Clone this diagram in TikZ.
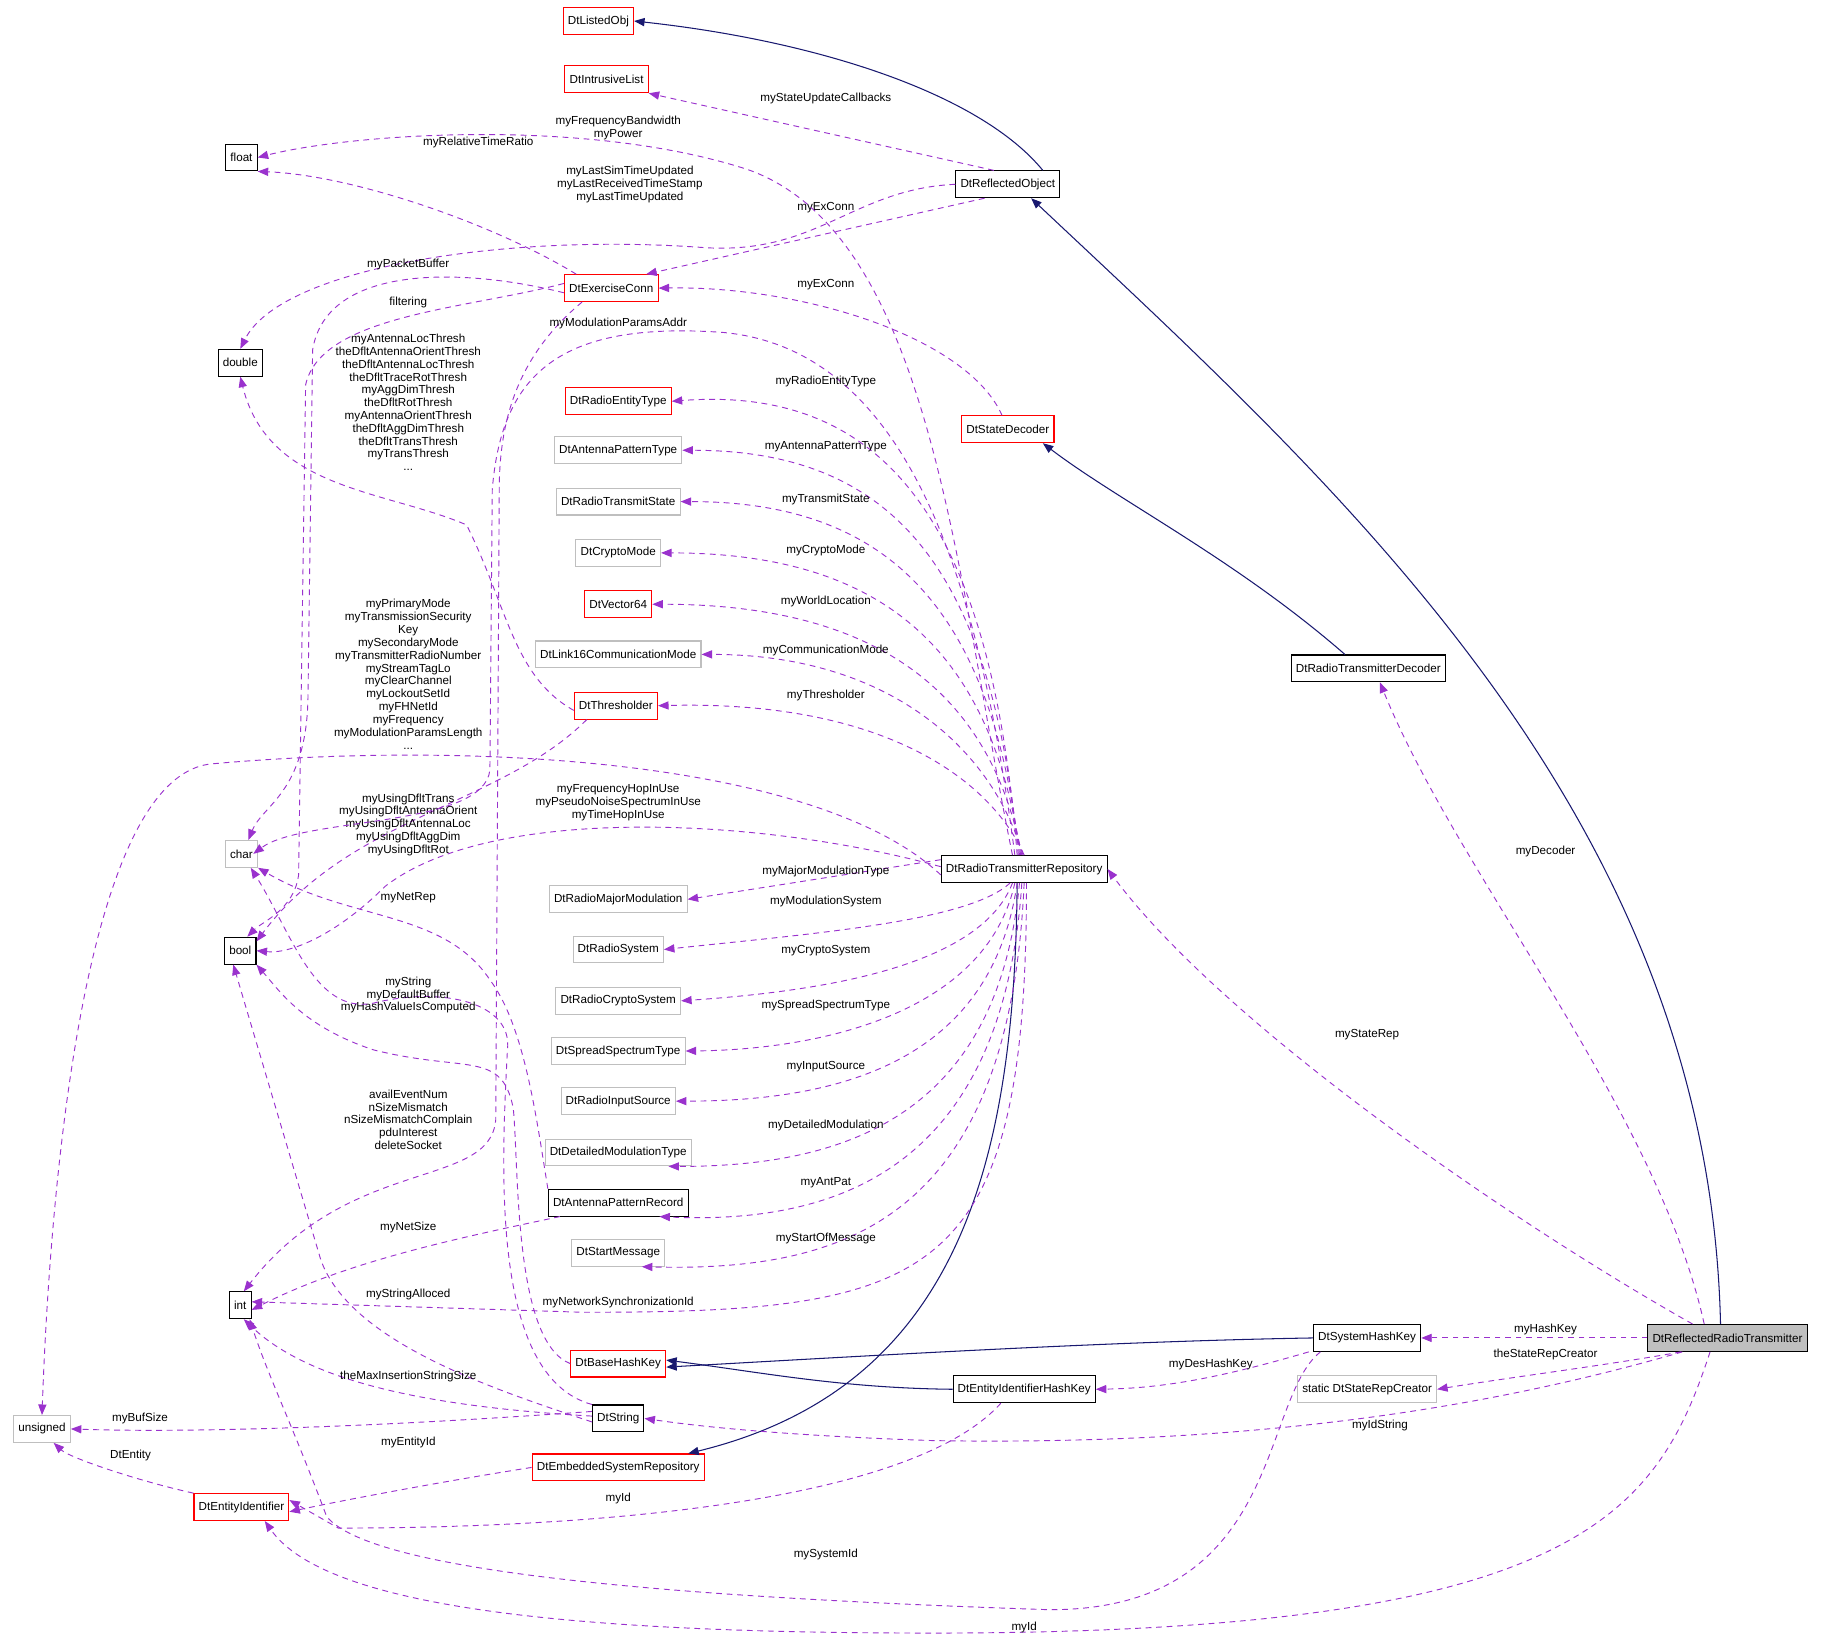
\documentclass[tikz,border=0pt]{standalone}
\usepackage{fontspec}
\setmainfont{Liberation Sans}
\usetikzlibrary{arrows.meta}
\definecolor{dep}{HTML}{9A32CD}
\definecolor{inh}{HTML}{191970}
\begin{document}
\begin{tikzpicture}[x=1pt,y=-1pt,
  box/.style={draw=black,line width=0.9pt,fill=white,minimum height=23pt,inner xsep=4pt,inner ysep=0pt,font=\fontsize{10}{12}\selectfont},
  rbox/.style={box,draw=red},
  gbox/.style={box,draw=black!25},
  fbox/.style={box,fill=black!25},
  dep/.style={draw=dep,line width=0.8pt,dash pattern=on 5pt off 4pt,-{Triangle[length=9pt,width=7pt,fill=dep]}},
  inh/.style={draw=inh,line width=0.9pt,-{Triangle[length=9pt,width=7pt,fill=inh]}},
  lab/.style={font=\fontsize{10}{11}\selectfont,align=center,inner sep=0pt}]
\useasboundingbox (0,0) rectangle (1568,1406);
% nodes
\node[rbox] (LO) at (513,18) {DtListedObj};
\node[rbox] (IL) at (520,68) {DtIntrusiveList};
\node[box] (fl) at (207,135) {float};
\node[box] (RO) at (864,158) {DtReflectedObject};
\node[rbox] (EC) at (524,247) {DtExerciseConn};
\node[box] (db) at (206,311) {double};
\node[rbox] (RET) at (530,344) {DtRadioEntityType};
\node[rbox] (SD) at (864,368) {DtStateDecoder};
\node[gbox] (APT) at (530,386) {DtAntennaPatternType};
\node[gbox] (RTS) at (530,430) {DtRadioTransmitState};
\node[gbox] (CM) at (530,474) {DtCryptoMode};
\node[rbox] (V64) at (530,518) {DtVector64};
\node[gbox] (L16) at (530,561) {DtLink16CommunicationMode};
\node[rbox] (TH) at (528,605) {DtThresholder};
\node[box] (RTD) at (1173,573) {DtRadioTransmitterDecoder};
\node[gbox] (ch) at (207,732) {char};
\node[box] (RP) at (878,745) {DtRadioTransmitterRepository};
\node[gbox] (RMM) at (530,771) {DtRadioMajorModulation};
\node[box] (bo) at (206,815) {bool};
\node[gbox] (RS) at (530,814) {DtRadioSystem};
\node[gbox] (RCS) at (530,858) {DtRadioCryptoSystem};
\node[gbox] (SST) at (530,901) {DtSpreadSpectrumType};
\node[gbox] (RIS) at (530,944) {DtRadioInputSource};
\node[gbox] (DMT) at (530,988) {DtDetailedModulationType};
\node[box] (APR) at (530,1031) {DtAntennaPatternRecord};
\node[gbox] (SM) at (530,1074) {DtStartMessage};
\node[box] (in) at (206,1119) {int};
\node[box] (SHK) at (1172,1147) {DtSystemHashKey};
\node[fbox] (RRT) at (1481,1147) {DtReflectedRadioTransmitter};
\node[rbox] (BHK) at (530,1169) {DtBaseHashKey};
\node[box] (EIHK) at (878,1191) {DtEntityIdentifierHashKey};
\node[gbox] (SRC) at (1172,1191) {static DtStateRepCreator};
\node[gbox] (un) at (36,1225) {unsigned};
\node[box] (ST) at (530,1216) {DtString};
\node[rbox] (ESR) at (530,1258) {DtEmbeddedSystemRepository};
\node[rbox] (EI) at (207,1292) {DtEntityIdentifier};
% inheritance
\draw[inh] ([xshift=30]RO.north) .. controls (840,80) and (700,35) .. (LO.east);
\draw[inh] ([xshift=-6]RRT.north) .. controls (1465,700) and (1150,420) .. ([xshift=20]RO.south);
\draw[inh] ([xshift=-20]RTD.north) .. controls (1060,480) and (960,430) .. ([xshift=30]SD.south);
\draw[inh] (SHK.west) .. controls (950,1150) and (750,1162) .. ([yshift=-3]BHK.east);
\draw[inh] (EIHK.west) .. controls (720,1190) and (650,1176) .. ([yshift=3]BHK.east);
\draw[inh] ([xshift=-6]RP.south) .. controls (870,1000) and (820,1190) .. ([xshift=60]ESR.north);
% dependencies from ReflectedObject
\draw[dep] ([xshift=-12]RO.north) -- (IL.south east);
\node[lab] (l1) at (708,84) {myStateUpdateCallbacks};
\draw[dep] (RO.west) .. controls (730,162) and (700,220) .. (600,212) .. controls (430,200) and (240,230) .. (db.north);
\node[lab] (l2) at (540,158) {myLastSimTimeUpdated\\myLastReceivedTimeStamp\\myLastTimeUpdated};
\draw[dep] ([xshift=-20]RO.south) -- ([xshift=30]EC.north);
\node[lab] (l3) at (708,178) {myExConn};
% ExerciseConn
\draw[dep] ([xshift=-30]EC.north) .. controls (420,190) and (300,150) .. (fl.south east);
\node[lab] (l4) at (410,122) {myRelativeTimeRatio};
\draw[dep] ([yshift=-4]EC.west) .. controls (400,230) and (280,225) .. (268,300) -- (264,600) .. controls (262,680) and (225,690) .. ([xshift=6]ch.north);
\node[lab] (l5) at (350,227) {myPacketBuffer};
\draw[dep] ([yshift=4]EC.west) .. controls (400,265) and (275,270) .. (262,330) -- (256,750) .. controls (252,780) and (225,790) .. ([xshift=6]bo.north);
\node[lab] (l6) at (350,259) {filtering};
\draw[dep] ([xshift=-25]EC.south) .. controls (450,300) and (428,350) .. (428,420) -- (425,960) .. controls (420,1020) and (300,990) .. ([xshift=3]in.north);
\node[lab] (l7) at (350,960) {availEventNum\\nSizeMismatch\\nSizeMismatchComplain\\pduInterest\\deleteSocket};
\draw[dep] ([xshift=-5]SD.north) .. controls (830,290) and (690,245) .. (EC.east);
\node[lab] (l8) at (708,244) {myExConn};
% Thresholder
\draw[dep] ([yshift=-4]TH.west) .. controls (440,580) and (435,520) .. (400,450) .. controls (330,420) and (230,420) .. (db.south);
\node[lab] (l9) at (350,345) {myAntennaLocThresh\\theDfltAntennaOrientThresh\\theDfltAntennaLocThresh\\theDfltTraceRotThresh\\myAggDimThresh\\theDfltRotThresh\\myAntennaOrientThresh\\theDfltAggDimThresh\\theDfltTransThresh\\myTransThresh\\...};
\draw[dep] ([xshift=-25]TH.south) .. controls (430,690) and (300,700) .. ([yshift=-4]bo.north east);
\node[lab] (l10) at (350,707) {myUsingDfltTrans\\myUsingDfltAntennaOrient\\myUsingDfltAntennaLoc\\myUsingDfltAggDim\\myUsingDfltRot};
% Repository fan
\draw[dep] ([xshift=-10]RP.north) .. controls (820,500) and (800,200) .. (640,145) .. controls (500,100) and (300,115) .. (fl.east);
\node[lab] (l11) at (530,110) {myFrequencyBandwidth\\myPower};
\draw[dep] ([xshift=-8]RP.north) .. controls (840,500) and (780,300) .. (620,285) .. controls (480,275) and (430,320) .. (422,420) -- (420,660) .. controls (415,710) and (260,700) .. ([xshift=-4]ch.east);
\node[lab] (l12) at (530,277) {myModulationParamsAddr};
\draw[dep] ([xshift=-6]RP.north) .. controls (850,450) and (760,330) .. (RET.east);
\node[lab] (l13) at (708,327) {myRadioEntityType};
\draw[dep] ([xshift=-5]RP.north) .. controls (850,480) and (760,386) .. (APT.east);
\node[lab] (l14) at (708,383) {myAntennaPatternType};
\draw[dep] ([xshift=-4]RP.north) .. controls (850,520) and (760,430) .. (RTS.east);
\node[lab] (l15) at (708,428) {myTransmitState};
\draw[dep] ([xshift=-3]RP.north) .. controls (850,560) and (760,474) .. (CM.east);
\node[lab] (l16) at (708,472) {myCryptoMode};
\draw[dep] ([xshift=-2]RP.north) .. controls (850,600) and (760,518) .. (V64.east);
\node[lab] (l17) at (708,516) {myWorldLocation};
\draw[dep] ([xshift=-1]RP.north) .. controls (850,640) and (760,561) .. (L16.east);
\node[lab] (l18) at (708,558) {myCommunicationMode};
\draw[dep] (RP.north) .. controls (850,670) and (760,600) .. (TH.east);
\node[lab] (l19) at (708,596) {myThresholder};
\draw[dep] ([yshift=-5]RP.west) .. controls (700,650) and (400,635) .. (180,655) .. controls (60,670) and (40,1100) .. (un.north);
\node[lab] (l20) at (350,578) {myPrimaryMode\\myTransmissionSecurity\\Key\\mySecondaryMode\\myTransmitterRadioNumber\\myStreamTagLo\\myClearChannel\\myLockoutSetId\\myFHNetId\\myFrequency\\myModulationParamsLength\\...};
\draw[dep] ([yshift=2]RP.west) .. controls (650,700) and (420,690) .. (330,760) .. controls (290,800) and (250,818) .. (bo.east);
\node[lab] (l21) at (530,688) {myFrequencyHopInUse\\myPseudoNoiseSpectrumInUse\\myTimeHopInUse};
\draw[dep] ([yshift=8]RP.west) -- (RMM.east);
\node[lab] (l22) at (708,747) {myMajorModulationType};
\draw[dep] ([xshift=-12]RP.south) .. controls (830,790) and (700,800) .. (RS.east);
\node[lab] (l23) at (708,773) {myModulationSystem};
\draw[dep] ([xshift=-10]RP.south) .. controls (840,830) and (700,850) .. (RCS.east);
\node[lab] (l24) at (708,815) {myCryptoSystem};
\draw[dep] ([xshift=-8]RP.south) .. controls (845,870) and (700,900) .. (SST.east);
\node[lab] (l25) at (708,862) {mySpreadSpectrumType};
\draw[dep] ([xshift=-6]RP.south) .. controls (850,910) and (720,944) .. (RIS.east);
\node[lab] (l26) at (708,914) {myInputSource};
\draw[dep] ([xshift=-4]RP.south) .. controls (855,960) and (720,1000) .. ([xshift=-20]DMT.south east);
\node[lab] (l27) at (708,965) {myDetailedModulation};
\draw[dep] ([xshift=-2]RP.south) .. controls (860,1000) and (720,1050) .. ([xshift=-25]APR.south east);
\node[lab] (l28) at (708,1014) {myAntPat};
\draw[dep] (RP.south) .. controls (865,1050) and (720,1090) .. ([xshift=-20]SM.south east);
\node[lab] (l29) at (708,1062) {myStartOfMessage};
\draw[dep] ([xshift=2]RP.south) .. controls (880,1100) and (800,1125) .. (500,1125) -- ([yshift=3]in.east);
\node[lab] (l30) at (530,1117) {myNetworkSynchronizationId};
% AntennaPatternRecord, BaseHashKey, String
\draw[dep] ([xshift=-50]APR.south) .. controls (400,1060) and (300,1080) .. ([yshift=-4]in.east);
\node[lab] (l31) at (350,1052) {myNetSize};
\draw[dep] (APR.north west) .. controls (460,960) and (450,880) .. (420,840) .. controls (380,780) and (300,790) .. (ch.south east);
\node[lab] (l32) at (350,770) {myNetRep};
\draw[dep] (BHK.west) .. controls (440,1150) and (445,1000) .. (440,950) .. controls (430,900) and (400,920) .. (320,900) .. controls (260,880) and (240,850) .. (bo.south east);
\node[lab] (l33) at (350,864) {myHashValueIsComputed};
\draw[dep] (ST.north west) .. controls (420,1180) and (430,1000) .. (435,900) .. controls (440,860) and (380,845) .. (320,860) .. controls (270,870) and (250,800) .. ([xshift=8]ch.south);
\node[lab] (l34) at (350,848) {myString\\myDefaultBuffer};
\draw[dep] ([yshift=-3]ST.west) .. controls (420,1190) and (300,1150) .. (275,1080) -- ([xshift=-6]bo.south);
\node[lab] (l35) at (350,1110) {myStringAlloced};
\draw[dep] ([yshift=2]ST.west) .. controls (350,1205) and (260,1180) .. ([xshift=3]in.south);
\node[lab] (l36) at (350,1180) {theMaxInsertionStringSize};
\draw[dep] ([yshift=6]ST.west) .. controls (300,1225) and (150,1228) .. (un.east);
\node[lab] (l37) at (120,1216) {myBufSize};
% Entity identifier and hash keys
\draw[dep] (EI.north west) .. controls (120,1270) and (60,1250) .. ([xshift=10]un.south);
\node[lab] (l38) at (112,1248) {DtEntity};
\draw[dep] (ESR.west) .. controls (380,1270) and (300,1285) .. ([yshift=-4]EI.east);
\node[lab] (l39) at (350,1237) {myEntityId};
\draw[dep] ([xshift=-20]EIHK.south) .. controls (780,1290) and (500,1310) .. (290,1310) -- ([yshift=6]EI.east);
\node[lab] (l40) at (530,1285) {myId};
\draw[dep] ([xshift=-40]SHK.south) .. controls (1080,1200) and (1100,1380) .. (900,1380) .. controls (600,1370) and (320,1350) .. (280,1300) .. controls (250,1220) and (230,1180) .. ([xshift=8]in.south);
\node[lab] (l41) at (708,1333) {mySystemId};
\draw[dep] ([xshift=-50]SHK.south) .. controls (1050,1180) and (1000,1190) .. (EIHK.east);
\node[lab] (l42) at (1038,1170) {myDesHashKey};
% ReflectedRadioTransmitter
\draw[dep] (RRT.west) -- (SHK.east);
\node[lab] (l43) at (1325,1140) {myHashKey};
\draw[dep] ([xshift=-40]RRT.south) .. controls (1380,1170) and (1300,1180) .. (SRC.east);
\node[lab] (l44) at (1325,1161) {theStateRepCreator};
\draw[dep] ([xshift=30]RRT.south west) .. controls (1300,1200) and (1100,1240) .. (800,1235) .. controls (650,1230) and (580,1220) .. (ST.east);
\node[lab] (l45) at (1183,1222) {myIdString};
\draw[dep] ([xshift=-15]RRT.south) .. controls (1420,1300) and (1350,1400) .. (800,1400) .. controls (500,1400) and (280,1380) .. ([xshift=20]EI.south);
\node[lab] (l46) at (878,1395) {myId};
\draw[dep] ([xshift=-30]RRT.north) .. controls (1300,1050) and (1050,880) .. (RP.east);
\node[lab] (l47) at (1172,887) {myStateRep};
\draw[dep] ([xshift=-20]RRT.north) .. controls (1420,950) and (1250,750) .. ([xshift=10]RTD.south);
\node[lab] (l48) at (1325,730) {myDecoder};
\end{tikzpicture}
\end{document}
